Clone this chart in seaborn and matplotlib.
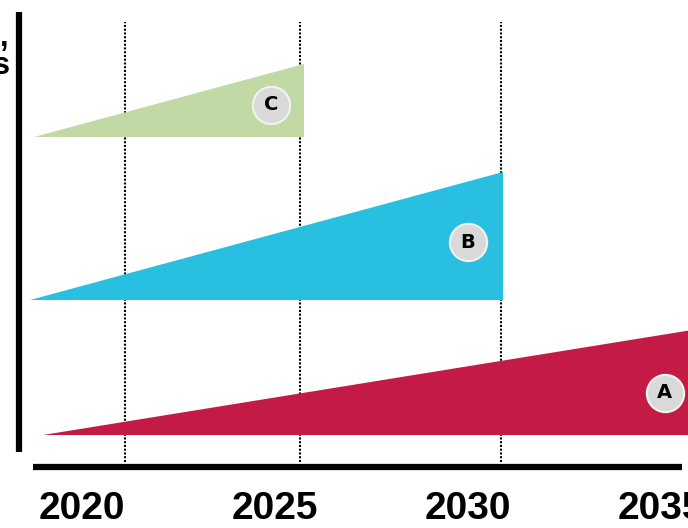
import matplotlib
matplotlib.use("Agg")
import matplotlib.pyplot as plt
import seaborn as sns
import pandas as pd

# wedge data (years on x, arbitrary size units on y)
labels = ["A", "B", "C"]
start_year = [2019.0, 2018.65, 2018.75]
end_year = [2036.6, 2030.9, 2025.75]
base = [93, 228, 391]
height = [110, 128, 73]
badge_year = [2035.1, 2030.0, 2024.9]
badge_y = [135, 286, 423]
colors = ["#c41a46", "#28bfe0", "#c1d9a4"]

ticks = [2020, 2025, 2030, 2035]
tick_labels = ["2020", "2025", "2030", "2035"]
guides = [2021.12, 2025.66, 2030.85]

sns.set_theme(style="white")
plt.rcParams["font.family"] = ["Liberation Sans", "DejaVu Sans"]
plt.rcParams["text.color"] = "black"

fig = plt.figure(figsize=(6.88, 5.28), dpi=100)
ax = fig.add_axes([0, 0, 1, 1])
px = 38.6  # pixels per year
ax.set_xlim(2020 - 82 / px, 2020 + 606 / px)
ax.set_ylim(0, 528)
ax.axis("off")

# dotted guides
for g in guides:
    ax.plot([g, g], [66, 506], ls=(0, (1, 0.8)), color="black", lw=1.5, zorder=1)

# wedges
for lab, s, e, b, h, c in zip(labels, start_year, end_year, base, height, colors):
    ax.fill([s, e, e], [b, b, b + h], color=c, lw=0, zorder=2)

# badges
badges = pd.DataFrame({"year": badge_year, "y": badge_y, "label": labels})
sns.scatterplot(data=badges, x="year", y="y", s=720, color="#d9d9d9",
                edgecolor="#f2f2f2", linewidth=1.5, ax=ax, zorder=3, legend=False)
for _, r in badges.iterrows():
    ax.text(r["year"], r["y"], r["label"], ha="center", va="center", color="black",
            fontsize=14, fontweight="heavy", family="DejaVu Sans", zorder=4)

# left bar and bottom line
x0 = 2020 - (82 - 19) / px
ax.plot([x0, x0], [76, 516], color="black", lw=4.5, solid_capstyle="butt", zorder=5)
ax.plot([2020 - (82 - 33) / px, 2020 + 600 / px], [61, 61], color="black", lw=4.5,
        solid_capstyle="butt", zorder=5)

# year labels
for t, tl in zip(ticks, tick_labels):
    ax.text(t, 19, tl, ha="center", va="center", fontsize=28, fontweight="bold",
            color="black", zorder=5)

# clipped title fragment on the left edge
fig.text(8 / 688, 1 - 38 / 528, ",", ha="right", va="center", fontsize=22, fontweight="bold",
         color="black")
fig.text(10 / 688, 1 - 66 / 528, "s", ha="right", va="center", fontsize=22, fontweight="bold",
         color="black")

fig.savefig("out.png", dpi=100)
